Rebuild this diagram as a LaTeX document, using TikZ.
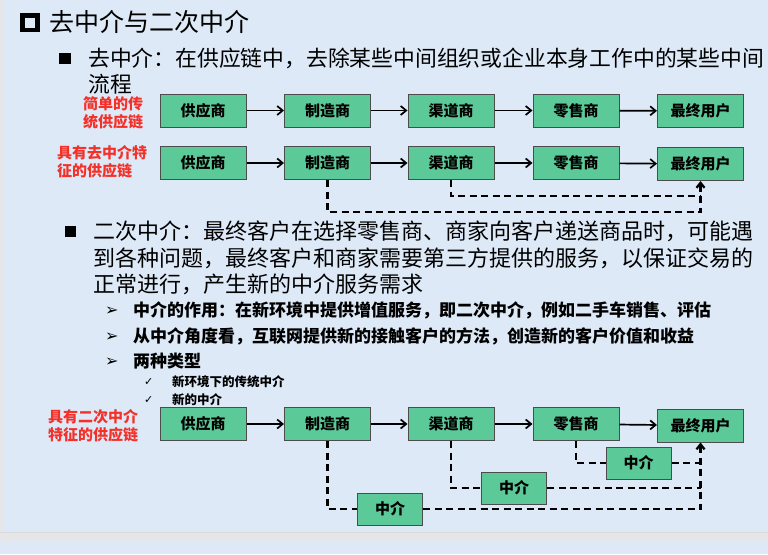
\documentclass[tikz,border=0pt]{standalone}
\usepackage{fontspec}
\usetikzlibrary{arrows.meta}
\newfontfamily\cjk{Noto Sans CJK SC}
\newfontfamily\dingfont{DejaVu Sans}
\definecolor{slidebg}{RGB}{221,233,247}
\definecolor{edgegray}{RGB}{230,230,232}
\definecolor{boxgreen}{RGB}{92,201,153}
\definecolor{labelred}{RGB}{245,48,40}
\begin{document}
\begin{tikzpicture}[x=1pt,y=-1pt,
  chainbox/.style={draw=black!70, line width=1pt, fill=boxgreen,
    minimum width=86pt, minimum height=33pt, inner sep=0pt,
    font=\cjk\bfseries\fontsize{15}{18}\selectfont},
  midbox/.style={chainbox, minimum width=65pt, minimum height=32pt},
  flow/.style={-{Straight Barb[length=5.5pt,width=9pt]}, line width=1.7pt},
  bypass/.style={dash pattern=on 7pt off 4.5pt, line width=2.3pt},
  uptip/.style={-{Straight Barb[length=5pt,width=8pt]}},
  txt/.style={anchor=west, inner sep=0pt},
  heading/.style={txt, font=\cjk\fontsize{25}{30}\selectfont},
  bodyline/.style={txt, font=\cjk\fontsize{21.8}{26}\selectfont},
  subline/.style={txt, font=\cjk\bfseries\fontsize{17}{20}\selectfont},
  tinyline/.style={txt, font=\cjk\bfseries\fontsize{12.5}{15}\selectfont},
  pointer/.style={txt, font=\dingfont\fontsize{16}{18}\selectfont},
  tick/.style={txt, font=\dingfont\fontsize{11}{13}\selectfont},
  redlabel/.style={txt, align=left, text=labelred, font=\cjk\bfseries\fontsize{15}{18}\selectfont}
]
% page, side strip and the gap to the next slide
\useasboundingbox (0,0) rectangle (768,554);
\fill[slidebg] (0,0) rectangle (768,554);
\fill[edgegray] (0,0) rectangle (4,532);
\fill[edgegray] (0,532) rectangle (768,542);
\draw[black!15, line width=0.6pt] (0,532) -- (768,532);

% title
\draw[line width=4.5pt] (22.5,15.5) rectangle (37.5,30);
\node[heading] (title) at (49,22) {去中介与二次中介};

% first point
\fill (59,53) rectangle (71,64);
\node[bodyline] (p1a) at (88,58) {去中介：在供应链中，去除某些中间组织或企业本身工作中的某些中间};
\node[bodyline] (p1b) at (88,84) {流程};

% traditional chain
\node[redlabel] (lab1) at (83,112.5) {\fontsize{15}{19}\selectfont 简单的传\\统供应链};
\node[chainbox] (sup1) at (203,110.5) {供应商};
\node[chainbox] (man1) at (327.5,110.5) {制造商};
\node[chainbox] (dis1) at (451,110.5) {渠道商};
\node[chainbox] (ret1) at (576,110.5) {零售商};
\node[chainbox] (end1) at (700.5,111) {最终用户};
\draw[flow] (sup1) -- (man1);
\draw[flow] (man1) -- (dis1);
\draw[flow] (dis1) -- (ret1);
\draw[flow] (ret1) -- (end1);

% disintermediated chain
\node[redlabel] (lab2) at (57,161.5) {具有去中介特\\征的供应链};
\node[chainbox] (sup2) at (203,163) {供应商};
\node[chainbox] (man2) at (327.5,163) {制造商};
\node[chainbox] (dis2) at (451,163) {渠道商};
\node[chainbox] (ret2) at (576,163) {零售商};
\node[chainbox] (end2) at (700.5,164) {最终用户};
\draw[flow] (sup2) -- (man2);
\draw[flow] (man2) -- (dis2);
\draw[flow] (dis2) -- (ret2);
\draw[flow] (ret2) -- (end2);
\coordinate (hook1) at (700.5,196);
\coordinate (hook2) at (700.5,212);
\draw[bypass] (dis2.south) |- (hook1);
\draw[bypass, uptip] (man2.south) |- (hook2) -- (end2.south);

% second point
\fill (65,226) rectangle (76,237);
\node[bodyline, font=\cjk\fontsize{22}{26}\selectfont] (p2a) at (93,231) {二次中介：最终客户在选择零售商、商家向客户递送商品时，可能遇};
\node[bodyline, font=\cjk\fontsize{22}{26}\selectfont] (p2b) at (93,258) {到各种问题，最终客户和商家需要第三方提供的服务，以保证交易的};
\node[bodyline, font=\cjk\fontsize{22}{26}\selectfont] (p2c) at (93,284) {正常进行，产生新的中介服务需求};

% sub points
\node[pointer] (arr1) at (105,311) {➢};
\node[pointer] (arr2) at (105,337) {➢};
\node[pointer] (arr3) at (105,362) {➢};
\node[subline] (s1) at (133,310) {中介的作用：在新环境中提供增值服务，即二次中介，例如二手车销售、评估};
\node[subline] (s2) at (133,336) {从中介角度看，互联网提供新的接触客户的方法，创造新的客户价值和收益};
\node[subline] (s3) at (133,361) {两种类型};
\node[tick] (chk1) at (144,382) {✓};
\node[tick] (chk2) at (144,400) {✓};
\node[tinyline] (t1) at (172,382) {新环境下的传统中介};
\node[tinyline] (t2) at (172,400) {新的中介};

% chain with new intermediaries
\node[redlabel] (lab3) at (48,425.5) {具有二次中介\\特征的供应链};
\node[chainbox] (sup3) at (203,424) {供应商};
\node[chainbox] (man3) at (327.5,424) {制造商};
\node[chainbox] (dis3) at (451,424) {渠道商};
\node[chainbox] (ret3) at (576,424) {零售商};
\node[chainbox] (end3) at (700.5,425.5) {最终用户};
\draw[flow] (sup3) -- (man3);
\draw[flow] (man3) -- (dis3);
\draw[flow] (dis3) -- (ret3);
\draw[flow] (ret3) -- (end3);
\node[midbox] (mid1) at (638.5,463) {中介};
\node[midbox] (mid2) at (514,488) {中介};
\node[midbox] (mid3) at (390,509) {中介};
\draw[bypass] (ret3.south) |- (mid1.west);
\draw[bypass] (mid1.east) -- (mid1.east -| end3.south);
\draw[bypass] (dis3.south) |- (mid2.west);
\draw[bypass] (mid2.east) -- (mid2.east -| end3.south);
\draw[bypass] (man3.south) |- (mid3.west);
\draw[bypass, uptip] (mid3.east) -| (end3.south);
\end{tikzpicture}
\end{document}
